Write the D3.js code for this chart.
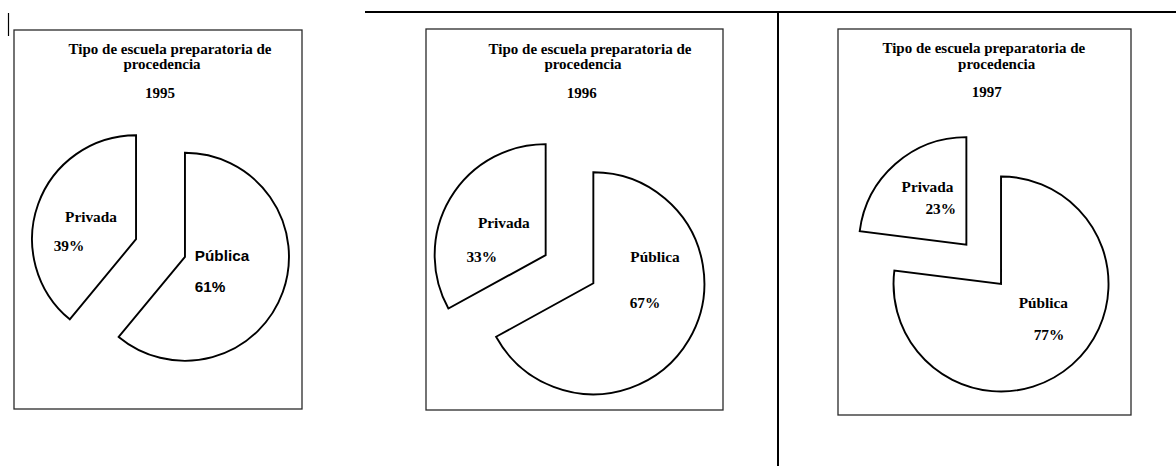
<!DOCTYPE html>
<html>
<head>
<meta charset="utf-8">
<script src="https://cdn.jsdelivr.net/npm/d3@7/dist/d3.min.js"></script>
<style>
  html, body { margin: 0; padding: 0; background: #fff; }
  svg { display: block; }
  text { font-weight: bold; fill: #000; }
</style>
</head>
<body>
<svg id="chart" width="1176" height="466"></svg>
<script>
// Data
const years = ["1995", "1996", "1997"];
const categories = ["Pública", "Privada"];
const publica = [61, 67, 77];
const privada = [39, 33, 23];
const titleLines = ["Tipo de escuela preparatoria de", "procedencia"];

// Layout of each panel: frame, pie centre/radius/explode, text positions
const panels = [
  { box: [14, 30, 302, 409], cx: 160.5, cy: 248, r: 104, explode: 26,
    title: [[170, 53.5], [162, 69], [160, 98]],
    labels: { "Pública": { name: [222, 261], pct: [210, 292], sans: true },
              "Privada": { name: [91, 222], pct: [69, 251] } } },
  { box: [426, 29, 723, 410], cx: 569.5, cy: 269.2, r: 111, explode: 27.7,
    title: [[590, 53.5], [583, 69], [581.7, 97.7]],
    labels: { "Pública": { name: [655, 261.7], pct: [645, 308.3] },
              "Privada": { name: [503.8, 228], pct: [481.7, 261.7] } } },
  { box: [838, 29, 1131, 415], cx: 983.7, cy: 264.3, r: 107.5, explode: 26.2,
    title: [[983.8, 52.5], [996.7, 68.5], [986.7, 96.7]],
    labels: { "Pública": { name: [1043.3, 308.3], pct: [1049, 340] },
              "Privada": { name: [927.5, 191.5], pct: [940.7, 214.3] } } }
];

const svg = d3.select("#chart");
const serif = "'Liberation Serif', 'Times New Roman', serif";
const sans = "'Liberation Sans', Arial, sans-serif";

// Page rules around the panels
svg.append("line").attr("x1", 8.5).attr("x2", 8.5).attr("y1", 13).attr("y2", 36)
  .attr("stroke", "#000").attr("stroke-width", 1.2);
svg.append("line").attr("x1", 365).attr("x2", 1176).attr("y1", 12).attr("y2", 12)
  .attr("stroke", "#000").attr("stroke-width", 2);
svg.append("line").attr("x1", 778).attr("x2", 778).attr("y1", 11).attr("y2", 466)
  .attr("stroke", "#000").attr("stroke-width", 2);

const pie = d3.pie().sort(null).value(d => d.value).startAngle(0).endAngle(2 * Math.PI);

years.forEach((year, i) => {
  const p = panels[i];
  const g = svg.append("g");

  // frame
  g.append("rect")
    .attr("x", p.box[0]).attr("y", p.box[1])
    .attr("width", p.box[2] - p.box[0]).attr("height", p.box[3] - p.box[1])
    .attr("fill", "none").attr("stroke", "#2a2a2a").attr("stroke-width", 1.3);

  // title and year
  const tl = titleLines.concat([year]);
  tl.forEach((t, k) => {
    g.append("text")
      .attr("x", p.title[k][0]).attr("y", p.title[k][1])
      .attr("text-anchor", "middle")
      .style("font-family", serif).style("font-size", "15px")
      .text(t);
  });

  const data = [
    { cat: categories[0], value: publica[i] },
    { cat: categories[1], value: privada[i] }
  ];
  const arcs = pie(data);
  const arc = d3.arc().innerRadius(0).outerRadius(p.r);

  const slices = g.append("g").attr("transform", `translate(${p.cx},${p.cy})`);
  slices.selectAll("path")
    .data(arcs)
    .join("path")
    .attr("transform", d => {
      const a = (d.startAngle + d.endAngle) / 2;
      return `translate(${p.explode * Math.sin(a)},${-p.explode * Math.cos(a)})`;
    })
    .attr("d", arc)
    .attr("fill", "#fff")
    .attr("stroke", "#000")
    .attr("stroke-width", 1.9)
    .attr("stroke-linejoin", "miter");

  // slice labels
  arcs.forEach(d => {
    const L = p.labels[d.data.cat];
    const fam = L.sans ? sans : serif;
    g.append("text")
      .attr("x", L.name[0]).attr("y", L.name[1])
      .attr("text-anchor", "middle")
      .style("font-family", fam).style("font-size", "15.3px")
      .text(d.data.cat);
    g.append("text")
      .attr("x", L.pct[0]).attr("y", L.pct[1])
      .attr("text-anchor", "middle")
      .style("font-family", fam).style("font-size", "15.3px")
      .text(d.data.value + "%");
  });
});
</script>
</body>
</html>
